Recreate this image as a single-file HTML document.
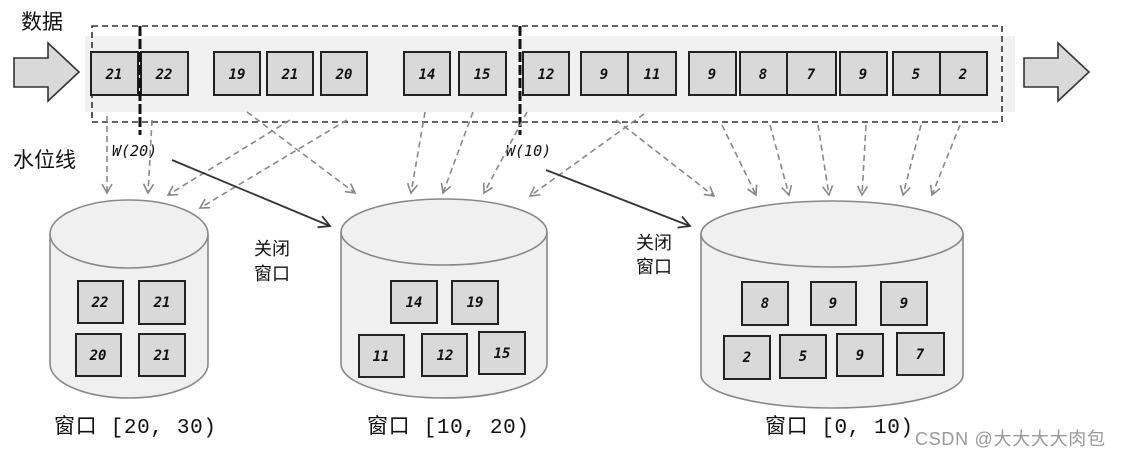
<!DOCTYPE html>
<html><head><meta charset="utf-8"><style>
body{margin:0;background:#fff;}
svg{display:block;}
.bx{fill:#d9d9d9;stroke:#222;stroke-width:2;}
.n{font-family:"DejaVu Sans Mono","Liberation Mono",monospace;font-style:italic;font-weight:bold;font-size:14px;fill:#111;text-anchor:middle;}
.cn{font-family:"Liberation Sans","Noto Sans CJK SC",sans-serif;font-size:21px;fill:#111;}
.lb{font-family:"Liberation Mono","Noto Sans CJK SC",monospace;font-size:21px;fill:#111;}
.da{stroke:#888;stroke-width:1.6;stroke-dasharray:6,4;fill:none;}
.cyl{fill:#f0f0f0;stroke:#888;stroke-width:1.6;}
</style></head><body>
<svg width="1122" height="458" viewBox="0 0 1122 458" xmlns="http://www.w3.org/2000/svg">
<defs>
<marker id="oh" markerWidth="12" markerHeight="12" refX="10" refY="6" orient="auto" markerUnits="userSpaceOnUse">
<path d="M1,1 L10,6 L1,11" fill="none" stroke="#888" stroke-width="1.6"/></marker>
<marker id="sh" markerWidth="14" markerHeight="14" refX="12" refY="7" orient="auto" markerUnits="userSpaceOnUse">
<path d="M1,1 L12,7 L1,13" fill="none" stroke="#333" stroke-width="1.8"/></marker>
</defs>
<text x="21" y="29" class="cn">数据</text>
<text x="13" y="167" class="cn">水位线</text>
<rect x="85" y="36" width="930" height="76" fill="#f0f0f0"/>
<rect x="92" y="26" width="910" height="96" fill="none" stroke="#333" stroke-width="1.6" stroke-dasharray="6,4"/>
<polygon points="14,58 48,58 48,43 79,72 48,101 48,87 14,87" fill="#d9d9d9" stroke="#333" stroke-width="1.6"/>
<polygon points="1024,58 1058,58 1058,43 1089,72 1058,101 1058,87 1024,87" fill="#d9d9d9" stroke="#333" stroke-width="1.6"/>
<g>
<rect class="bx" x="91" y="52" width="47" height="43"/><text class="n" x="114" y="79">21</text>
<rect class="bx" x="141" y="52" width="47" height="43"/><text class="n" x="164" y="79">22</text>
<rect class="bx" x="214" y="52" width="46" height="43"/><text class="n" x="237" y="79">19</text>
<rect class="bx" x="267" y="52" width="46" height="43"/><text class="n" x="290" y="79">21</text>
<rect class="bx" x="321" y="52" width="46" height="43"/><text class="n" x="344" y="79">20</text>
<rect class="bx" x="404" y="52" width="46" height="43"/><text class="n" x="427" y="79">14</text>
<rect class="bx" x="459" y="52" width="47" height="43"/><text class="n" x="482" y="79">15</text>
<rect class="bx" x="523" y="52" width="46" height="43"/><text class="n" x="546" y="79">12</text>
<rect class="bx" x="581" y="52" width="47" height="43"/><text class="n" x="604" y="79">9</text>
<rect class="bx" x="628" y="52" width="48" height="43"/><text class="n" x="652" y="79">11</text>
<rect class="bx" x="689" y="52" width="47" height="43"/><text class="n" x="712" y="79">9</text>
<rect class="bx" x="740" y="52" width="47" height="43"/><text class="n" x="763" y="79">8</text>
<rect class="bx" x="787" y="52" width="49" height="43"/><text class="n" x="811" y="79">7</text>
<rect class="bx" x="840" y="52" width="47" height="43"/><text class="n" x="863" y="79">9</text>
<rect class="bx" x="893" y="52" width="47" height="43"/><text class="n" x="916" y="79">5</text>
<rect class="bx" x="940" y="52" width="47" height="43"/><text class="n" x="963" y="79">2</text>
</g>
<line x1="140" y1="26" x2="140" y2="135" stroke="#111" stroke-width="3" stroke-dasharray="10,3"/>
<line x1="520" y1="26" x2="520" y2="135" stroke="#111" stroke-width="3" stroke-dasharray="10,3"/>
<text x="112" y="156" class="n" style="text-anchor:start;font-weight:normal;font-size:15px">W(20)</text>
<text x="506" y="156" class="n" style="text-anchor:start;font-weight:normal;font-size:15px">W(10)</text>
<g class="da">
<line x1="107" y1="116" x2="107" y2="193" marker-end="url(#oh)"/>
<line x1="152" y1="120" x2="148" y2="193" marker-end="url(#oh)"/>
<line x1="290" y1="120" x2="168" y2="195" marker-end="url(#oh)"/>
<line x1="347" y1="120" x2="200" y2="208" marker-end="url(#oh)"/>
<line x1="247" y1="112" x2="355" y2="193" marker-end="url(#oh)"/>
<line x1="425" y1="112" x2="411" y2="193" marker-end="url(#oh)"/>
<line x1="473" y1="112" x2="443" y2="193" marker-end="url(#oh)"/>
<line x1="527" y1="112" x2="484" y2="193" marker-end="url(#oh)"/>
<line x1="644" y1="114" x2="530" y2="196" marker-end="url(#oh)"/>
<line x1="616" y1="120" x2="714" y2="196" marker-end="url(#oh)"/>
<line x1="722" y1="125" x2="756" y2="195" marker-end="url(#oh)"/>
<line x1="770" y1="125" x2="789" y2="195" marker-end="url(#oh)"/>
<line x1="818" y1="125" x2="829" y2="195" marker-end="url(#oh)"/>
<line x1="866" y1="125" x2="862" y2="195" marker-end="url(#oh)"/>
<line x1="921" y1="125" x2="903" y2="195" marker-end="url(#oh)"/>
<line x1="960" y1="125" x2="932" y2="195" marker-end="url(#oh)"/>
</g>
<line x1="172" y1="160" x2="330" y2="226" stroke="#333" stroke-width="1.8" marker-end="url(#sh)"/>
<line x1="546" y1="170" x2="690" y2="226" stroke="#333" stroke-width="1.8" marker-end="url(#sh)"/>
<text x="254" y="255" class="cn" style="font-size:18px">关闭</text>
<text x="254" y="280" class="cn" style="font-size:18px">窗口</text>
<text x="636" y="249" class="cn" style="font-size:18px">关闭</text>
<text x="636" y="273" class="cn" style="font-size:18px">窗口</text>
<path class="cyl" d="M50,234 L50,364 A79,34 0 0 0 208,364 L208,234"/>
<ellipse class="cyl" cx="129" cy="234" rx="79" ry="34"/>
<path class="cyl" d="M341,232 L341,364 A103,34 0 0 0 547,364 L547,232"/>
<ellipse class="cyl" cx="444" cy="232" rx="103" ry="33"/>
<path class="cyl" d="M701,234 L701,375 A131,33 0 0 0 963,375 L963,234"/>
<ellipse class="cyl" cx="832" cy="234" rx="131" ry="33"/>
<g>
<rect class="bx" x="78" y="281" width="45" height="42"/><text class="n" x="100" y="307">22</text>
<rect class="bx" x="139" y="281" width="46" height="43"/><text class="n" x="162" y="307">21</text>
<rect class="bx" x="76" y="334" width="45" height="42"/><text class="n" x="98" y="360">20</text>
<rect class="bx" x="139" y="334" width="46" height="42"/><text class="n" x="162" y="360">21</text>
<rect class="bx" x="391" y="281" width="46" height="42"/><text class="n" x="414" y="307">14</text>
<rect class="bx" x="452" y="281" width="46" height="43"/><text class="n" x="475" y="307">19</text>
<rect class="bx" x="359" y="335" width="45" height="42"/><text class="n" x="381" y="361">11</text>
<rect class="bx" x="422" y="334" width="45" height="42"/><text class="n" x="445" y="360">12</text>
<rect class="bx" x="479" y="332" width="46" height="42"/><text class="n" x="502" y="358">15</text>
<rect class="bx" x="742" y="282" width="46" height="43"/><text class="n" x="765" y="308">8</text>
<rect class="bx" x="811" y="282" width="45" height="43"/><text class="n" x="833" y="308">9</text>
<rect class="bx" x="881" y="282" width="46" height="43"/><text class="n" x="904" y="308">9</text>
<rect class="bx" x="724" y="336" width="46" height="43"/><text class="n" x="747" y="362">2</text>
<rect class="bx" x="780" y="335" width="46" height="43"/><text class="n" x="803" y="361">5</text>
<rect class="bx" x="837" y="334" width="46" height="42"/><text class="n" x="860" y="360">9</text>
<rect class="bx" x="897" y="333" width="47" height="42"/><text class="n" x="920" y="359">7</text>
</g>
<text x="54" y="433" class="lb" textLength="162">窗口 [20, 30)</text>
<text x="367" y="433" class="lb" textLength="162">窗口 [10, 20)</text>
<text x="765" y="433" class="lb" textLength="148">窗口 [0, 10)</text>
<text x="915" y="445" style="font-family:'Liberation Sans','Noto Sans CJK SC',sans-serif;font-size:18px;fill:#999" textLength="190">CSDN @大大大大肉包</text>
</svg>
</body></html>
